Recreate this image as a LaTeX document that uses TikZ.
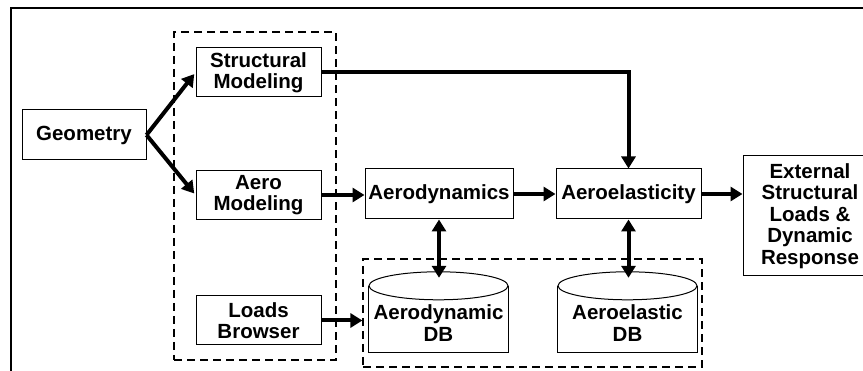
\documentclass[tikz,border=0pt]{standalone}
\usepackage{fontspec}
\setmainfont{Liberation Sans}
\usetikzlibrary{arrows.meta}
\begin{document}
\begin{tikzpicture}[x=1pt,y=-1pt,
  txt/.style={font=\fontsize{20.5}{21.5}\selectfont\bfseries, align=center, inner sep=0pt},
  box/.style={txt, draw, line width=1pt},
  dashbox/.style={draw, line width=1.2pt, dash pattern=on 8pt off 5pt, inner sep=0pt},
  cylbody/.style={inner sep=0pt},
  arr/.style={line width=4pt, -{Triangle[length=12pt,width=14pt]}},
  darr/.style={line width=4pt, {Triangle[length=12pt,width=14pt]}-{Triangle[length=12pt,width=14pt]}}]
\useasboundingbox (0,0) rectangle (863,371);
% frame
\draw[line width=2pt] (11,372) -- (11,8) -- (864,8);
% groups
\node[dashbox, minimum width=162pt, minimum height=328pt] (grp1) at (255,196) {};
\node[dashbox, minimum width=339pt, minimum height=108pt] (grp2) at (532.5,313) {};
% boxes
\node[box, minimum width=124pt, minimum height=50pt] (geom) at (84,135) {Geometry};
\node[box, minimum width=125pt, minimum height=49pt] (struct) at (258.5,72.5) {Structural\\Modeling};
\node[box, minimum width=125pt, minimum height=49pt] (aeromod) at (258.5,195) {Aero\\Modeling};
\node[box, minimum width=125pt, minimum height=49pt] (loads) at (258.5,320.5) {Loads\\Browser};
\node[box, minimum width=148pt, minimum height=50pt] (aerodyn) at (439,194) {Aerodynamics};
\node[box, minimum width=145pt, minimum height=50pt] (aeroel) at (628.5,194) {Aeroelasticity};
\node[box, minimum width=134pt, minimum height=120pt] (ext) at (810,216) {External\\Structural\\Loads \&\\Dynamic\\Response};
% cylinders
\node[cylbody, minimum width=139pt, minimum height=66pt] (adb) at (438.5,319) {};
\node[cylbody, minimum width=139pt, minimum height=66pt] (aedb) at (627.5,319) {};
\foreach \c in {adb,aedb}{
  \draw[line width=1pt] (\c.north west) -- (\c.south west) -- (\c.south east) -- (\c.north east);
  \draw[line width=1pt, fill=white] (\c.north) ellipse [x radius=69.5pt, y radius=14pt];
}
\node[txt] (adbt) at (438.5,323) {Aerodynamic\\DB};
\node[txt] (aedbt) at (627.5,323) {Aeroelastic\\DB};
% connectors
\draw[arr, shorten >=2pt] (geom.east) -- (struct.west);
\draw[arr, shorten >=2pt] (geom.east) -- (aeromod.west);
\draw[arr] (struct.east) -| (aeroel.north);
\draw[arr] (aeromod.east) -- (aeromod.east -| aerodyn.west);
\draw[arr] (aerodyn.east) -- (aerodyn.east -| aeroel.west);
\draw[arr] (aeroel.east) -- (aeroel.east -| ext.west);
\draw[arr] (loads.east) -- (loads.east -| grp2.west);
\draw[darr, shorten >=8pt] (aerodyn.south) -- (aerodyn.south |- adb.north);
\draw[darr, shorten >=8pt] (aeroel.south) -- (aeroel.south |- aedb.north);
\end{tikzpicture}
\end{document}
